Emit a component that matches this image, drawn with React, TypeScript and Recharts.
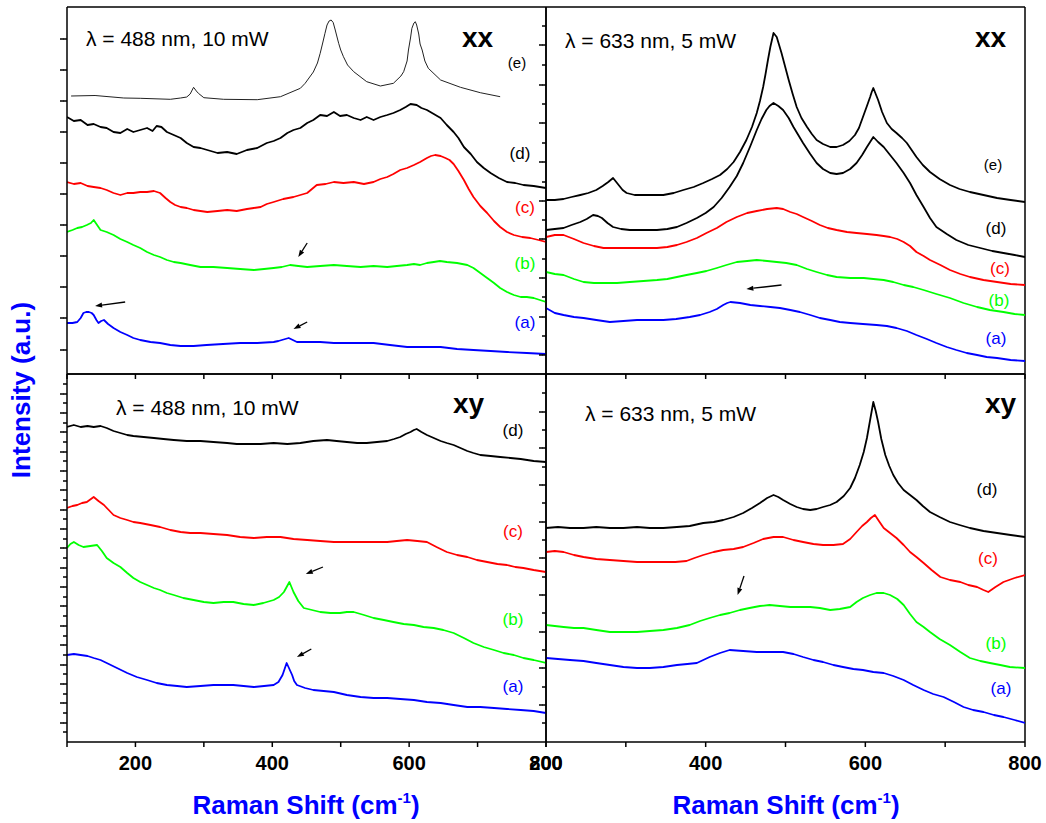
import { LineChart, Line, XAxis, YAxis, ReferenceLine } from 'recharts';

type Pt = [number, number];

// Intensities are in arbitrary units (one unit ~ one pixel of panel height)

// ---- top left: xx, 488 nm ----
const tlE: Pt[] = [
  [106, 278], [141, 278.5], [183, 276], [207, 275.7], [251, 274.7], [266, 276], [275, 277], [280, 280],
  [285, 286.7], [289, 283], [292, 280.7], [300, 276.3], [329, 274.7], [378, 274.3], [412, 277.3], [441, 285.7],
  [448, 290.7], [460, 302], [466, 311], [470, 320.7], [474, 332], [477, 340.7], [480, 349], [483, 353],
  [486, 354], [489, 351.5], [492, 344], [495, 336], [497, 330.7], [500, 324], [504, 317.3], [510, 309],
  [519, 302.3], [538, 292.3], [558, 288], [577, 290.7], [588, 298], [592, 302.3], [597, 313], [599, 324],
  [602, 336], [604, 345.7], [607, 351], [609, 352.3], [611, 349], [614, 340], [616, 330], [619, 324],
  [623, 313], [628, 305.7], [646, 294], [675, 286.7], [704, 281.3], [733, 277.3],
];
const tlD: Pt[] = [
  [100, 257], [110, 253], [120, 254], [130, 249], [139, 250], [149, 247], [158, 246], [168, 242], [178, 241],
  [188, 245], [197, 242], [207, 244], [217, 246], [225, 243], [231, 248], [238, 247], [246, 242], [256, 239],
  [266, 236], [275, 231], [285, 227], [295, 226], [305, 224], [320, 221], [334, 222], [348, 220], [363, 224],
  [378, 226], [392, 231], [402, 233], [412, 236], [422, 241], [431, 244], [441, 246], [451, 251], [460, 254],
  [470, 259], [480, 258], [490, 262], [499, 258], [509, 259], [519, 256], [529, 254], [538, 257], [548, 254],
  [558, 257], [568, 259], [577, 261], [587, 264], [595, 267], [602, 270], [611, 269], [618, 266], [626, 264],
  [636, 260], [646, 256], [655, 249], [665, 242], [672, 236], [680, 227], [690, 220], [699, 212], [709, 206],
  [719, 201], [731, 196], [743, 192], [755, 191], [767, 189], [782, 188], [800, 186],
];
const tlC: Pt[] = [
  [100, 192], [110, 190], [120, 191], [130, 188], [139, 187], [149, 186], [158, 184], [168, 181], [178, 179],
  [188, 181], [197, 181], [207, 182], [217, 182], [227, 183], [236, 181], [244, 176], [251, 172], [258, 169],
  [266, 167], [275, 166], [285, 164], [295, 163], [305, 162], [320, 163], [334, 164], [348, 163], [363, 165],
  [373, 166], [383, 167], [392, 170], [402, 172], [416, 175], [431, 177], [441, 179], [451, 181], [458, 185],
  [465, 189], [478, 190], [490, 192], [504, 191], [519, 192], [534, 190], [548, 192], [558, 195], [568, 197],
  [577, 200], [587, 204], [597, 206], [607, 209], [616, 212], [626, 216], [632, 218], [638, 219], [646, 218],
  [653, 216], [659, 214], [665, 210], [672, 203], [680, 194], [687, 185], [694, 177], [704, 168], [714, 161],
  [724, 153], [733, 147], [743, 142], [753, 139], [765, 137], [777, 136], [789, 134], [800, 132],
];
const tlB: Pt[] = [
  [100, 142], [108, 144], [115, 146], [122, 147], [129, 149], [135, 151], [139, 154], [144, 149], [149, 144],
  [158, 142], [168, 139], [178, 135], [188, 132], [197, 129], [207, 126], [217, 122], [227, 119], [236, 117],
  [246, 114], [256, 112], [266, 111], [280, 109], [295, 107], [314, 107], [334, 106], [353, 105], [373, 104],
  [388, 105], [402, 106], [414, 107], [426, 109], [438, 108], [451, 107], [470, 108], [490, 109], [509, 108],
  [529, 107], [548, 108], [568, 107], [582, 108], [597, 109], [607, 110], [616, 109], [626, 111], [636, 112],
  [645, 113], [655, 112], [670, 111], [685, 109], [694, 106], [704, 101], [714, 96], [724, 91], [733, 86],
  [743, 82], [753, 79], [763, 77], [772, 77], [782, 76], [791, 74], [800, 72],
];
const tlA: Pt[] = [
  [100, 51], [108, 51], [115, 52], [120, 56], [124, 61], [128, 62], [132, 62], [136, 61], [139, 59],
  [143, 54], [146, 51], [150, 53], [154, 54], [160, 50], [168, 46], [178, 42], [188, 39], [197, 36],
  [207, 34], [222, 32], [236, 31], [251, 29], [266, 28], [285, 28], [304, 29], [328, 30], [353, 31],
  [378, 31], [402, 32], [409, 33], [414, 34], [419, 35], [424, 36], [430, 34], [436, 32], [450, 32],
  [470, 32], [490, 31], [509, 31], [529, 31], [548, 31], [572, 29], [597, 27], [622, 27], [646, 27],
  [670, 25], [694, 24], [719, 23], [743, 22], [772, 21], [800, 20],
];

// ---- top right: xx, 633 nm ----
const trE: Pt[] = [
  [200, 174], [211, 174], [222, 175], [232, 177], [243, 179], [253, 181], [263, 184], [271, 188], [278, 192],
  [284, 196], [288, 192], [291, 189], [296, 184], [301, 181], [311, 179], [322, 179], [334, 179], [347, 179],
  [360, 181], [372, 184], [385, 187], [397, 191], [408, 195], [418, 199], [427, 205], [435, 212], [443, 222],
  [451, 234], [458, 247], [464, 261], [468, 273], [472, 287], [475, 300], [478, 314], [481, 327], [485, 341],
  [487, 339], [489, 337], [492, 329], [495, 321], [500, 306], [504, 294], [509, 280], [514, 267], [520, 256],
  [527, 247], [533, 240], [539, 234], [547, 230], [556, 227], [564, 227], [572, 229], [580, 233], [587, 239],
  [592, 246], [597, 257], [602, 268], [606, 277], [608, 282], [610, 286], [613, 280], [616, 274], [621, 262],
  [627, 251], [633, 245], [639, 241], [646, 236], [652, 231], [658, 224], [664, 217], [672, 209], [681, 202],
  [693, 195], [706, 189], [718, 185], [731, 182], [748, 179], [765, 176], [782, 174], [800, 172],
];
const trD: Pt[] = [
  [200, 144], [211, 145], [222, 146], [232, 149], [243, 152], [251, 155], [259, 159], [265, 158], [270, 156],
  [277, 151], [284, 147], [294, 145], [305, 144], [322, 144], [339, 144], [352, 145], [364, 147], [376, 151],
  [389, 156], [400, 161], [410, 167], [420, 176], [430, 187], [439, 198], [447, 211], [456, 228], [464, 244],
  [470, 255], [476, 264], [480, 268], [485, 271], [491, 268], [497, 264], [504, 256], [510, 247], [516, 239],
  [522, 231], [531, 220], [539, 211], [547, 205], [556, 201], [564, 200], [572, 201], [581, 205], [589, 211],
  [596, 219], [602, 227], [606, 232], [610, 237], [616, 232], [623, 227], [631, 219], [639, 211], [648, 201],
  [656, 191], [664, 179], [673, 167], [681, 156], [689, 147], [702, 140], [714, 134], [729, 129], [744, 126],
  [759, 123], [773, 121], [787, 119], [800, 117],
];
const trC: Pt[] = [
  [200, 137], [211, 139], [222, 139], [235, 135], [247, 131], [260, 128], [272, 126], [289, 126], [305, 126],
  [322, 126], [339, 126], [352, 127], [364, 129], [376, 132], [389, 136], [401, 141], [414, 146], [426, 152],
  [439, 157], [452, 161], [464, 163], [477, 165], [489, 166], [497, 165], [506, 162], [514, 160], [522, 157],
  [533, 153], [543, 149], [553, 146], [564, 144], [577, 142], [589, 141], [602, 140], [614, 139], [623, 138],
  [631, 137], [640, 135], [648, 132], [656, 128], [664, 122], [673, 118], [681, 114], [694, 109], [706, 104],
  [719, 100], [731, 97], [748, 94], [765, 92], [782, 90], [800, 89],
];
const trB: Pt[] = [
  [200, 102], [211, 100], [222, 99], [235, 95], [247, 92], [260, 91], [272, 91], [289, 91], [305, 92],
  [322, 93], [339, 94], [352, 95], [364, 97], [376, 99], [389, 101], [401, 103], [414, 106], [426, 109],
  [439, 112], [452, 113], [464, 114], [477, 113], [489, 112], [501, 111], [514, 109], [527, 105], [539, 102],
  [552, 99], [564, 97], [581, 96], [598, 96], [610, 95], [623, 94], [635, 92], [648, 89], [660, 87], [673, 84],
  [689, 80], [706, 76], [723, 71], [740, 67], [756, 64], [773, 62], [787, 60], [800, 59],
];
const trA: Pt[] = [
  [200, 66], [211, 61], [222, 59], [235, 57], [247, 56], [263, 54], [280, 52], [297, 53], [314, 54], [330, 54],
  [347, 54], [363, 55], [380, 57], [393, 59], [405, 62], [414, 65], [422, 69], [427, 71], [431, 72], [443, 71],
  [456, 69], [468, 68], [481, 67], [493, 66], [506, 64], [518, 62], [531, 59], [543, 56], [556, 54], [568, 52],
  [581, 51], [597, 50], [614, 49], [627, 48], [639, 46], [652, 43], [664, 39], [677, 35], [689, 31], [702, 27],
  [714, 24], [727, 21], [740, 19], [752, 17], [765, 16], [782, 14], [800, 13],
];

// ---- bottom left: xy, 488 nm ----
const blD: Pt[] = [
  [100, 315], [110, 317], [120, 315], [130, 316], [139, 315], [149, 316], [158, 314], [168, 311], [178, 309],
  [188, 307], [197, 306], [212, 305], [227, 304], [241, 303], [256, 302], [275, 301], [295, 301], [314, 300],
  [334, 299], [348, 298], [363, 298], [383, 298], [402, 299], [422, 298], [441, 299], [460, 301], [480, 302],
  [494, 301], [509, 300], [524, 299], [538, 299], [553, 300], [568, 301], [578, 303], [587, 305], [595, 308],
  [602, 310], [607, 312], [611, 313], [618, 310], [626, 307], [636, 304], [646, 301], [655, 299], [665, 297],
  [675, 294], [685, 291], [694, 289], [704, 287], [719, 286], [733, 285], [748, 284], [763, 283], [782, 281],
  [800, 280],
];
const blC: Pt[] = [
  [100, 234], [108, 236], [115, 237], [122, 239], [129, 240], [135, 243], [139, 245], [146, 241], [154, 237],
  [161, 232], [168, 227], [178, 224], [188, 222], [197, 220], [207, 219], [222, 217], [236, 215], [251, 212],
  [266, 210], [280, 209], [295, 209], [314, 208], [334, 207], [353, 205], [373, 204], [392, 205], [412, 205],
  [431, 203], [451, 202], [470, 201], [490, 200], [509, 200], [529, 200], [548, 200], [568, 200], [582, 201],
  [597, 202], [612, 201], [626, 200], [640, 195], [655, 190], [670, 187], [685, 185], [699, 182], [714, 180],
  [729, 178], [743, 177], [755, 175], [767, 174], [782, 172], [800, 170],
];
const blB: Pt[] = [
  [100, 194], [105, 198], [110, 200], [117, 197], [124, 195], [134, 196], [144, 197], [151, 191], [158, 184],
  [168, 179], [178, 175], [188, 169], [197, 164], [207, 160], [217, 157], [227, 154], [236, 152], [246, 149],
  [256, 147], [270, 144], [285, 142], [300, 140], [314, 139], [329, 140], [343, 140], [358, 138], [373, 137],
  [387, 139], [402, 142], [410, 145], [417, 150], [421, 155], [425, 160], [428, 155], [431, 150], [438, 141],
  [446, 134], [458, 132], [470, 130], [485, 129], [499, 129], [509, 130], [519, 130], [534, 127], [548, 124],
  [563, 122], [577, 120], [592, 118], [607, 117], [621, 115], [636, 114], [650, 112], [665, 109], [680, 104],
  [694, 99], [709, 95], [724, 92], [738, 89], [753, 87], [767, 84], [782, 82], [800, 79],
];
const blA: Pt[] = [
  [100, 87], [110, 88], [120, 87], [130, 86], [139, 84], [149, 82], [158, 79], [173, 74], [188, 69], [202, 65],
  [217, 62], [231, 59], [246, 57], [261, 56], [275, 55], [295, 56], [314, 57], [329, 57], [343, 57], [358, 56],
  [373, 55], [388, 56], [402, 57], [409, 60], [415, 67], [418, 73], [421, 79], [425, 73], [429, 67], [432, 61],
  [436, 57], [448, 54], [460, 52], [475, 51], [490, 50], [509, 47], [529, 45], [548, 44], [568, 44], [587, 43],
  [607, 42], [626, 40], [646, 39], [665, 37], [685, 35], [704, 35], [724, 34], [743, 33], [763, 32], [782, 31],
  [800, 29],
];

// ---- bottom right: xy, 633 nm ----
const brD: Pt[] = [
  [200, 214], [215, 215], [230, 214], [247, 214], [263, 215], [280, 214], [297, 214], [314, 215], [330, 214],
  [347, 214], [364, 215], [380, 216], [397, 219], [410, 220], [422, 222], [435, 225], [447, 229], [458, 234],
  [468, 239], [477, 244], [485, 247], [491, 245], [497, 242], [506, 238], [514, 235], [522, 233], [531, 232],
  [539, 233], [547, 235], [556, 237], [564, 240], [573, 246], [581, 254], [587, 264], [593, 277], [598, 290],
  [602, 304], [606, 322], [610, 340], [613, 331], [616, 320], [620, 303], [625, 287], [630, 276], [635, 267],
  [641, 259], [648, 252], [656, 247], [664, 242], [672, 236], [681, 230], [693, 225], [706, 220], [718, 217],
  [731, 214], [748, 211], [765, 209], [782, 207], [800, 205],
];
const brC: Pt[] = [
  [200, 190], [211, 191], [222, 190], [235, 187], [247, 185], [263, 183], [280, 182], [297, 181], [314, 180],
  [330, 180], [347, 180], [362, 180], [376, 181], [386, 184], [397, 187], [410, 190], [422, 192], [435, 193],
  [447, 195], [460, 199], [472, 203], [485, 205], [497, 205], [510, 202], [522, 200], [535, 198], [547, 197],
  [560, 197], [572, 198], [581, 203], [589, 210], [596, 216], [602, 220], [607, 224], [612, 227], [617, 221],
  [623, 214], [631, 209], [639, 204], [648, 197], [656, 190], [664, 185], [673, 179], [683, 172], [694, 165],
  [706, 162], [719, 160], [729, 157], [740, 155], [748, 152], [754, 150], [763, 155], [773, 160], [787, 164],
  [800, 167],
];
const brB: Pt[] = [
  [200, 117], [211, 116], [222, 115], [235, 114], [247, 114], [263, 112], [280, 110], [297, 110], [314, 110],
  [330, 111], [347, 112], [364, 114], [380, 117], [393, 121], [405, 124], [418, 127], [430, 129], [443, 132],
  [455, 134], [468, 136], [480, 137], [493, 136], [506, 135], [518, 135], [531, 135], [543, 134], [556, 132],
  [568, 133], [581, 135], [589, 140], [597, 144], [606, 147], [614, 149], [623, 149], [631, 147], [640, 143],
  [648, 137], [656, 128], [664, 120], [673, 115], [681, 110], [693, 103], [706, 97], [719, 90], [731, 84],
  [744, 81], [756, 79], [769, 77], [781, 75], [800, 74],
];
const brA: Pt[] = [
  [200, 84], [215, 83], [230, 82], [247, 81], [263, 79], [280, 77], [297, 75], [314, 74], [330, 74], [347, 75],
  [364, 77], [377, 78], [389, 79], [397, 82], [405, 85], [418, 89], [430, 92], [447, 91], [464, 90], [481, 90],
  [497, 90], [510, 88], [522, 85], [535, 82], [547, 80], [560, 77], [572, 75], [585, 73], [597, 72], [610, 70],
  [623, 69], [635, 66], [648, 62], [660, 57], [673, 52], [685, 48], [698, 45], [711, 40], [723, 35], [735, 32],
  [748, 30], [761, 27], [773, 25], [787, 22], [800, 19],
];

// arrows: [tail, head]
const tlArrows: [Pt, Pt][] = [
  [[185, 72], [141, 68]],
  [[451, 52], [431, 45]],
  [[451, 131], [438, 117]],
];
const trArrows: [Pt, Pt][] = [[[495, 89], [451, 85]]];
const blArrows: [Pt, Pt][] = [
  [[474, 175], [449, 168]],
  [[457, 93], [436, 85]],
];
const brArrows: [Pt, Pt][] = [[[448, 166], [440, 147]]];

// tick values
const xTicksLeft = [100, 200, 300, 400, 500, 600, 700, 800];
const xTicksRight = [200, 300, 400, 500, 600, 700, 800];
const tlYTicks = [24, 56, 87, 118, 149, 180, 211, 242, 273, 304, 335];
const trYTicks = [19, 38, 57, 77, 96, 115, 135, 154, 173, 192, 212, 231, 251, 270, 289, 309, 329, 348];
const trYMajor = [19, 57, 96, 135, 173, 212, 251, 289, 329];
const blYTicks = [
  10, 19, 29, 39, 48, 58, 68, 77, 87, 97, 106, 116, 126, 136, 145, 155, 165, 174, 184, 194, 203, 213, 223,
  232, 242, 252, 261, 271, 281, 290, 300, 310, 319, 329, 339, 348, 358,
];
const blYMajor = [19, 39, 58, 77, 97, 116, 136, 155, 174, 194, 213, 232, 252, 271, 290, 310, 329, 348];
const brYTicks = [19, 37, 55, 74, 92, 110, 129, 147, 165, 184, 202, 220, 239, 257, 275, 294, 312, 330, 349];
const brYMajor = [37, 74, 110, 147, 184, 220, 257, 294, 330];

const BLACK = '#000000';
const RED = '#ff0000';
const GREEN = '#00ff00';
const BLUE = '#0000ff';
const FONT = '"Liberation Sans", Arial, Helvetica, sans-serif';

interface Trace {
  data: Pt[];
  color: string;
  width?: number;
}

const toRows = (pts: Pt[]) => pts.map(([x, y]) => ({ x, y }));

function ArrowShape(props: any) {
  const { x1, y1, x2, y2 } = props;
  const ang = Math.atan2(y2 - y1, x2 - x1);
  const len = 7;
  const half = 2.5;
  const bx = x2 - len * Math.cos(ang);
  const by = y2 - len * Math.sin(ang);
  const px = -Math.sin(ang) * half;
  const py = Math.cos(ang) * half;
  return (
    <g>
      <line x1={x1} y1={y1} x2={bx} y2={by} stroke={BLACK} strokeWidth={1.3} />
      <polygon points={`${x2},${y2} ${bx + px},${by + py} ${bx - px},${by - py}`} fill={BLACK} />
    </g>
  );
}

// the axis draws every tick 4px long; majors get 3px more here
const makeYTick = (major: number[] | null) => (props: any) => {
  const { x, y, payload } = props;
  if (major !== null && !major.includes(payload.value)) return <g />;
  return <line x1={x + 0.5} x2={x - 3} y1={y} y2={y} stroke={BLACK} strokeWidth={1.5} />;
};

interface PanelProps {
  left: number;
  top: number;
  w: number;
  h: number;
  xMin: number;
  xTicks: number[];
  yTicks: number[];
  yMajor: number[] | null;
  showLabels: boolean;
  traces: Trace[];
  arrows: [Pt, Pt][];
}

function Panel({ left, top, w, h, xMin, xTicks, yTicks, yMajor, showLabels, traces, arrows }: PanelProps) {
  const ML = 25;
  const YW = 1;
  const MT = 2;
  const MR = 25;
  const XH = showLabels ? 40 : 10;
  return (
    <div style={{ position: 'absolute', left: left - ML, top: top - MT }}>
      <LineChart width={ML + w + MR} height={MT + h + XH} margin={{ top: MT, right: MR, left: ML - YW, bottom: 0 }}>
        <XAxis
          type="number"
          dataKey="x"
          domain={[xMin, 800]}
          ticks={xTicks}
          interval={0}
          allowDataOverflow
          height={XH}
          tickSize={5}
          tickMargin={9}
          stroke={BLACK}
          strokeWidth={1.5}
          tickFormatter={(v: number) => (showLabels && v % 200 === 0 ? String(v) : '')}
          tick={{ fontSize: 20, fontWeight: 'bold', fill: BLACK, fontFamily: FONT }}
        />
        <YAxis
          type="number"
          domain={[0, h]}
          ticks={yTicks}
          interval={0}
          allowDataOverflow
          width={YW}
          tickSize={4}
          tickMargin={0}
          tickLine={{ stroke: BLACK, strokeWidth: 1.5 }}
          tickFormatter={() => ''}
          tick={makeYTick(yMajor)}
          stroke={BLACK}
          strokeWidth={1.5}
        />
        <ReferenceLine y={h} stroke={BLACK} strokeWidth={1.5} ifOverflow="visible" />
        <ReferenceLine x={800} stroke={BLACK} strokeWidth={1.5} ifOverflow="visible" />
        {traces.map((t, i) => (
          <Line
            key={i}
            data={toRows(t.data)}
            dataKey="y"
            type="linear"
            dot={false}
            stroke={t.color}
            strokeWidth={t.width ?? 1.8}
            strokeLinejoin="round"
            isAnimationActive={false}
          />
        ))}
        {arrows.map(([a, b], i) => (
          <ReferenceLine
            key={'ar' + i}
            segment={[{ x: a[0], y: a[1] }, { x: b[0], y: b[1] }]}
            shape={ArrowShape}
            ifOverflow="visible"
          />
        ))}
      </LineChart>
    </div>
  );
}

function Label({ x, y, text, color, size = 17 }: { x: number; y: number; text: string; color: string; size?: number }) {
  return (
    <text x={x} y={y} textAnchor="middle" fill={color} fontSize={size} fontFamily={FONT}>
      {text}
    </text>
  );
}

export default function App() {
  return (
    <div style={{ position: 'absolute', left: 0, top: 0, width: 1046, height: 823, background: '#fff' }}>
      <Panel
        left={67} top={7} w={479} h={367} xMin={100} xTicks={xTicksLeft}
        yTicks={tlYTicks} yMajor={null} showLabels={false}
        traces={[
          { data: tlE, color: '#222222', width: 1 },
          { data: tlD, color: BLACK },
          { data: tlC, color: RED },
          { data: tlB, color: GREEN },
          { data: tlA, color: BLUE },
        ]}
        arrows={tlArrows}
      />
      <Panel
        left={546} top={7} w={479} h={367} xMin={200} xTicks={xTicksRight}
        yTicks={trYTicks} yMajor={trYMajor} showLabels={false}
        traces={[
          { data: trE, color: BLACK },
          { data: trD, color: BLACK },
          { data: trC, color: RED },
          { data: trB, color: GREEN },
          { data: trA, color: BLUE },
        ]}
        arrows={trArrows}
      />
      <Panel
        left={67} top={374} w={479} h={368} xMin={100} xTicks={xTicksLeft}
        yTicks={blYTicks} yMajor={blYMajor} showLabels={true}
        traces={[
          { data: blD, color: BLACK },
          { data: blC, color: RED },
          { data: blB, color: GREEN },
          { data: blA, color: BLUE },
        ]}
        arrows={blArrows}
      />
      <Panel
        left={546} top={374} w={479} h={368} xMin={200} xTicks={xTicksRight}
        yTicks={brYTicks} yMajor={brYMajor} showLabels={true}
        traces={[
          { data: brD, color: BLACK },
          { data: brC, color: RED },
          { data: brB, color: GREEN },
          { data: brA, color: BLUE },
        ]}
        arrows={brArrows}
      />
      <svg
        width={1046}
        height={823}
        style={{ position: 'absolute', left: 0, top: 0, pointerEvents: 'none' }}
      >
        <g fontFamily={FONT}>
          <text x={86} y={46} fontSize={21} fill={BLACK}>λ = 488 nm, 10 mW</text>
          <text x={462} y={47} fontSize={28} fontWeight="bold" fill={BLACK}>xx</text>
          <text x={565} y={48} fontSize={21} fill={BLACK}>λ = 633 nm, 5 mW</text>
          <text x={975} y={47} fontSize={28} fontWeight="bold" fill={BLACK}>xx</text>
          <text x={116} y={415} fontSize={21} fill={BLACK}>λ = 488 nm, 10 mW</text>
          <text x={453} y={413} fontSize={28} fontWeight="bold" fill={BLACK}>xy</text>
          <text x={585} y={421} fontSize={21} fill={BLACK}>λ = 633 nm, 5 mW</text>
          <text x={985} y={413} fontSize={28} fontWeight="bold" fill={BLACK}>xy</text>
        </g>
        <Label x={517} y={68} text="(e)" color={BLACK} size={15} />
        <Label x={520} y={159} text="(d)" color={BLACK} />
        <Label x={525} y={213} text="(c)" color={RED} />
        <Label x={525} y={269} text="(b)" color={GREEN} />
        <Label x={525} y={328} text="(a)" color={BLUE} />
        <Label x={993} y={170} text="(e)" color={BLACK} size={15} />
        <Label x={996} y={234} text="(d)" color={BLACK} />
        <Label x={1000} y={274} text="(c)" color={RED} />
        <Label x={999} y={306} text="(b)" color={GREEN} />
        <Label x={996} y={344} text="(a)" color={BLUE} />
        <Label x={513} y={436} text="(d)" color={BLACK} />
        <Label x={513} y={537} text="(c)" color={RED} />
        <Label x={513} y={625} text="(b)" color={GREEN} />
        <Label x={513} y={692} text="(a)" color={BLUE} />
        <Label x={987} y={495} text="(d)" color={BLACK} />
        <Label x={988} y={564} text="(c)" color={RED} />
        <Label x={996} y={649} text="(b)" color={GREEN} />
        <Label x={1001} y={694} text="(a)" color={BLUE} />
        <text
          x={306}
          y={814}
          textAnchor="middle"
          fontSize={26}
          fontWeight="bold"
          fill={BLUE}
          fontFamily={FONT}
        >
          Raman Shift (cm<tspan dy={-11} fontSize={15}>-1</tspan><tspan dy={11}>)</tspan>
        </text>
        <text
          x={786}
          y={814}
          textAnchor="middle"
          fontSize={26}
          fontWeight="bold"
          fill={BLUE}
          fontFamily={FONT}
        >
          Raman Shift (cm<tspan dy={-11} fontSize={15}>-1</tspan><tspan dy={11}>)</tspan>
        </text>
        <text
          transform="translate(30,390) rotate(-90)"
          textAnchor="middle"
          fontSize={26}
          fontWeight="bold"
          fill={BLUE}
          fontFamily={FONT}
        >
          Intensity (a.u.)
        </text>
      </svg>
    </div>
  );
}
